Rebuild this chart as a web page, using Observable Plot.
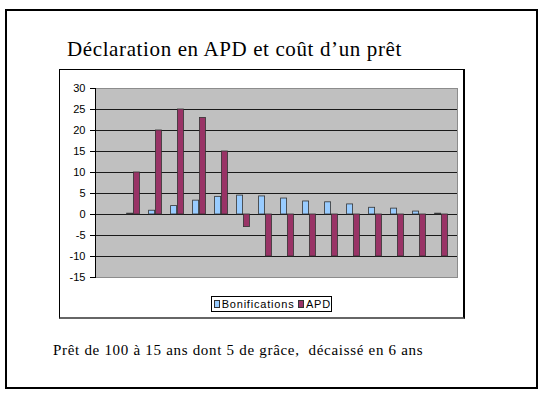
<!DOCTYPE html>
<html>
<head>
<meta charset="utf-8">
<script src="https://cdn.jsdelivr.net/npm/d3@7"></script>
<script src="https://cdn.jsdelivr.net/npm/@observablehq/plot@0.6"></script>
<style>
  html, body { margin: 0; padding: 0; background: #fff; }
  body { width: 544px; height: 396px; position: relative; overflow: hidden; }
  .abs { position: absolute; }
  #outer { left: 5px; top: 9px; width: 533px; height: 380px; box-sizing: border-box; border: 2px solid #000; }
  #title { left: 67px; top: 39px; font-family: "Liberation Serif", "Times New Roman", serif; font-size: 21px; letter-spacing: 0.62px; line-height: 21px; color: #000; white-space: pre; }
  #chartbox { left: 59px; top: 69px; width: 406px; height: 250px; box-sizing: border-box; border-top: 1px solid #000; border-left: 1px solid #000; border-right: 2px solid #000; border-bottom: 2px solid #666; background: #fff; }
  #plot { left: 60px; top: 70px; }
  #legend { left: 211px; top: 296px; width: 121px; height: 16px; box-sizing: border-box; border: 1px solid #000; background: #fff; font-family: "Liberation Sans", Arial, sans-serif; font-size: 11px; letter-spacing: 0.8px; line-height: 14px; display: flex; align-items: center; padding-left: 2px; white-space: pre; }
  .sw { width: 5px; height: 6px; border: 1px solid #333; display: inline-block; margin-right: 2px; }
  #caption { left: 53px; top: 343px; font-family: "Liberation Serif", "Times New Roman", serif; font-size: 15px; letter-spacing: 0.7px; line-height: 15px; color: #000; white-space: pre; }
</style>
</head>
<body>
<div id="outer" class="abs"></div>
<div id="title" class="abs"></div>
<div id="chartbox" class="abs"></div>
<div id="plot" class="abs"></div>
<div id="legend" class="abs"></div>
<div id="caption" class="abs"></div>
<script>
const titleText = "Déclaration en APD et coût d’un prêt";
const captionText = "Prêt de 100 à 15 ans dont 5 de grâce,  décaissé en 6 ans";
const seriesNames = ["Bonifications", "APD"];
const seriesColors = ["#99ccff", "#993366"];
const categories = [1, 2, 3, 4, 5, 6, 7, 8, 9, 10, 11, 12, 13, 14, 15, 16];
const bonifications = [null, 0.2, 0.9, 2.0, 3.3, 4.2, 4.5, 4.3, 3.8, 3.1, 2.9, 2.4, 1.6, 1.4, 0.7, 0.2];
const apd = [null, 10, 20, 25, 23, 15, -3, -10, -10, -10, -10, -10, -10, -10, -10, -10];
const yTicks = [-15, -10, -5, 0, 5, 10, 15, 20, 25, 30];
const gridValues = [-10, -5, 0, 5, 10, 15, 20, 25];

document.getElementById("title").textContent = titleText;
document.getElementById("caption").textContent = captionText;

const legend = document.getElementById("legend");
seriesNames.forEach((name, i) => {
  const sw = document.createElement("span");
  sw.className = "sw";
  sw.style.background = seriesColors[i];
  legend.appendChild(sw);
  const t = document.createElement("span");
  t.textContent = name + (i === 0 ? " " : "");
  legend.appendChild(t);
});

const data = categories.map((c, i) => ({cat: c, bonif: bonifications[i], apd: apd[i]}));

const chart = Plot.plot({
  width: 403,
  height: 247,
  marginLeft: 35,
  marginRight: 6,
  marginTop: 18,
  marginBottom: 40,
  x: {domain: categories, padding: 0, axis: null},
  y: {domain: [-15, 30], axis: null},
  style: {background: "transparent", fontFamily: "'Liberation Sans', Arial, sans-serif", fontSize: "11px", color: "#000"},
  marks: [
    Plot.frame({fill: "#c0c0c0", stroke: "#8c8c8c"}),
    Plot.ruleY(gridValues, {stroke: "#1a1a1a", strokeWidth: 1}),
    Plot.barY(data, {x: "cat", y: "bonif", fill: seriesColors[0], stroke: "#333", strokeWidth: 0.8, insetLeft: 8, insetRight: 8, dx: -3.4}),
    Plot.barY(data, {x: "cat", y: "apd", fill: seriesColors[1], stroke: "#333", strokeWidth: 0.8, insetLeft: 8, insetRight: 8, dx: 3.4}),
    Plot.axisY({ticks: yTicks, tickSize: 5, tickPadding: 5, tickFormat: d => String(d), fontSize: 11, stroke: "#000"}),
    Plot.frame({anchor: "left", stroke: "#000"})
  ]
});
document.getElementById("plot").appendChild(chart);
</script>
</body>
</html>
